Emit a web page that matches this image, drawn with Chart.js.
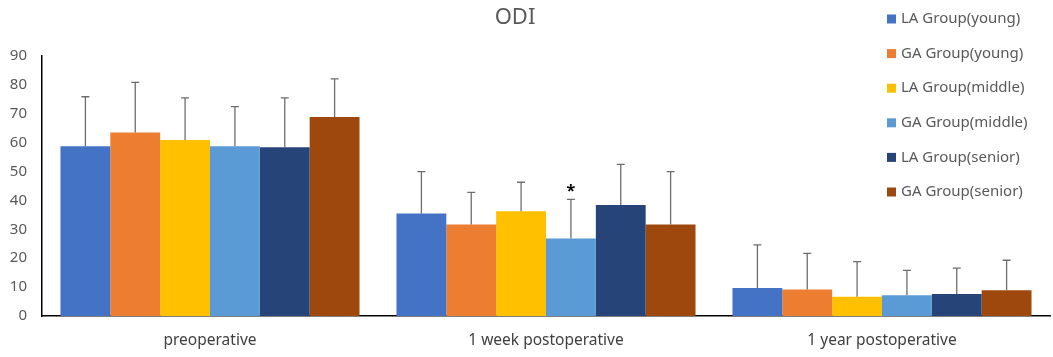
<!DOCTYPE html>
<html>
<head>
<meta charset="utf-8">
<script src="https://cdn.jsdelivr.net/npm/chart.js@4"></script>
<style>
  html, body { margin: 0; padding: 0; background: #fff; }
  #wrap { width: 1053px; height: 357px; position: relative; }
</style>
</head>
<body>
<div id="wrap"><canvas id="chart-odi"></canvas></div>
<script>
const categories = ['preoperative', '1 week postoperative', '1 year postoperative'];
const groups = ['LA Group(young)', 'GA Group(young)', 'LA Group(middle)', 'GA Group(middle)', 'LA Group(senior)', 'GA Group(senior)'];
const colors = ['#4472C4', '#ED7D31', '#FFC000', '#5B9BD5', '#264478', '#9E480E'];

// mean values per group, one entry per category
const laYoung = [58.8, 35.5, 9.7];
const gaYoung = [63.5, 31.7, 9.2];
const laMiddle = [60.9, 36.3, 6.7];
const gaMiddle = [58.8, 26.8, 7.2];
const laSenior = [58.4, 38.4, 7.6];
const gaSenior = [68.9, 31.7, 8.9];

// standard deviations (upper error bar length)
const laYoungSd = [17.1, 14.5, 14.9];
const gaYoungSd = [17.4, 11.1, 12.5];
const laMiddleSd = [14.6, 10.0, 12.1];
const gaMiddleSd = [13.7, 13.6, 8.6];
const laSeniorSd = [17.1, 14.1, 9.0];
const gaSeniorSd = [13.2, 18.3, 10.4];

const yTicks = [0, 10, 20, 30, 40, 50, 60, 70, 80, 90];

const means = [laYoung, gaYoung, laMiddle, gaMiddle, laSenior, gaSenior];
const sds = [laYoungSd, gaYoungSd, laMiddleSd, gaMiddleSd, laSeniorSd, gaSeniorSd];

const textColor = '#595959';
const fontFamily = '"Noto Sans", "Open Sans", sans-serif';

const errorBars = {
  id: 'errorBars',
  afterDatasetsDraw(chart) {
    const c = chart.ctx;
    const y = chart.scales.y;
    c.save();
    c.strokeStyle = '#6e6e6e';
    c.lineWidth = 1.3;
    chart.data.datasets.forEach((ds, i) => {
      const meta = chart.getDatasetMeta(i);
      meta.data.forEach((bar, j) => {
        const top = y.getPixelForValue(ds.data[j] + sds[i][j]);
        const base = y.getPixelForValue(ds.data[j]);
        c.beginPath();
        c.moveTo(bar.x, base);
        c.lineTo(bar.x, top);
        c.moveTo(bar.x - 4, top);
        c.lineTo(bar.x + 4, top);
        c.stroke();
      });
    });
    // significance mark on GA Group(middle), 1 week postoperative
    const bar = chart.getDatasetMeta(3).data[1];
    const top = y.getPixelForValue(gaMiddle[1] + gaMiddleSd[1]);
    c.fillStyle = '#000';
    c.font = 'bold 16px ' + fontFamily;
    c.textAlign = 'center';
    c.textBaseline = 'middle';
    c.fillText('*', bar.x, top - 8);
    c.restore();
  }
};

const titleAndLegend = {
  id: 'titleAndLegend',
  afterDraw(chart) {
    const c = chart.ctx;
    c.save();
    c.fillStyle = textColor;
    c.font = '22px ' + fontFamily;
    c.textAlign = 'center';
    c.textBaseline = 'middle';
    c.fillText('ODI', 515, 18);

    c.font = '15px ' + fontFamily;
    c.textAlign = 'left';
    groups.forEach((g, i) => {
      const yy = 19 + i * 34.6;
      c.fillStyle = colors[i];
      c.fillRect(887, yy - 4.5, 9, 9);
      c.fillStyle = textColor;
      c.fillText(g, 901, yy);
    });
    c.restore();
  }
};

new Chart(document.getElementById('chart-odi'), {
  type: 'bar',
  data: {
    labels: categories,
    datasets: groups.map((g, i) => ({
      label: g,
      data: means[i],
      backgroundColor: colors[i],
      borderWidth: 0,
      categoryPercentage: 0.89,
      barPercentage: 1.0
    }))
  },
  options: {
    responsive: true,
    maintainAspectRatio: false,
    animation: false,
    layout: { padding: { top: 56, right: 3, left: 0, bottom: 0 } },
    plugins: {
      legend: { display: false },
      title: { display: false },
      tooltip: { enabled: false }
    },
    scales: {
      x: {
        grid: { display: false, drawTicks: false },
        border: { color: '#000', width: 1.5 },
        ticks: {
          color: '#404040',
          font: { family: fontFamily, size: 15.5 },
          padding: 15
        },
        afterFit: (s) => { s.height = 41; }
      },
      y: {
        min: 0,
        max: 90,
        grid: { display: false, drawTicks: false },
        border: { color: '#000', width: 1.5 },
        afterBuildTicks: (s) => { s.ticks = yTicks.map((v) => ({ value: v })); },
        ticks: {
          color: textColor,
          font: { family: fontFamily, size: 15 },
          padding: 15
        },
        afterFit: (s) => { s.width = 42; }
      }
    }
  },
  plugins: [errorBars, titleAndLegend]
});
</script>
</body>
</html>
